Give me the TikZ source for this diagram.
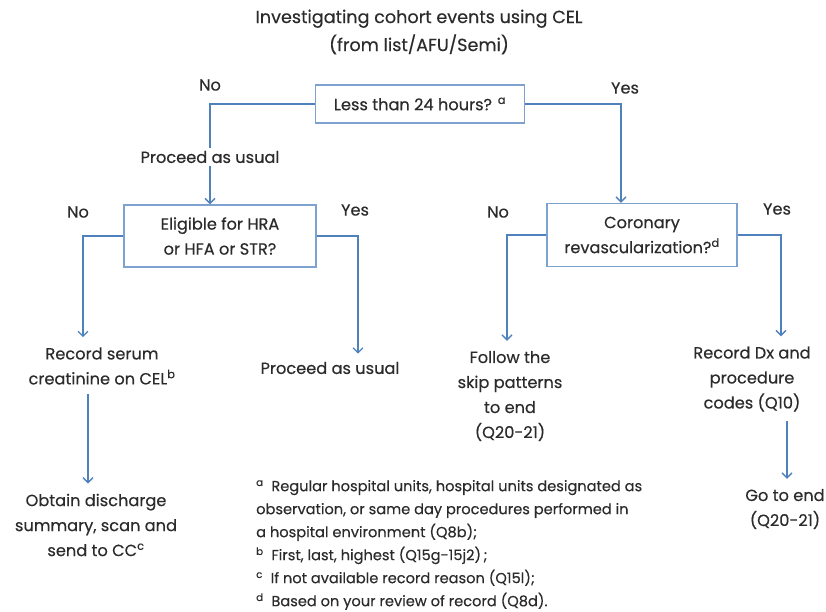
\documentclass[tikz,border=0pt]{standalone}
\usepackage{fontspec}
\setmainfont{Poppins}[FakeBold=0.35]
\usepackage{tikz}
\usetikzlibrary{positioning, arrows.meta, calc}
\usepackage{xcolor}
\definecolor{lineblue}{HTML}{4F81BD}
\definecolor{boxblue}{HTML}{7EA2CF}
\definecolor{txt}{HTML}{2B2B2B}

\begin{document}
\begin{tikzpicture}[x=1pt, y=-1pt,
      every node/.style={text=txt, font=\fontsize{16.2}{25}\selectfont},
      qbox/.style={draw=boxblue, line width=1.4pt, fill=white,
                  align=center, inner sep=2pt},
      plain/.style={align=center, inner sep=1pt},
      lbl/.style={inner sep=1pt},
      arr/.style={-{Straight Barb[length=5pt,width=10pt]}, line width=1.3pt, lineblue}]
    \useasboundingbox (0,0) rectangle (826,611);
    % title
    \node[plain, font=\fontsize{17.6}{28}\selectfont] (title) at (419,32) {Investigating cohort events using CEL\\ (from list/AFU/Semi)};
    % questions
    \node[qbox, minimum width=209pt, minimum height=38pt] (q1) at (420,104) {Less than 24 hours? \textsuperscript{a}};
    \node[qbox, minimum width=192pt, minimum height=62pt] (q2) at (220,236) {Eligible for HRA\\ or HFA or STR?};
    \node[qbox, minimum width=190pt, minimum height=63pt] (q3) at (642,235) {Coronary\\ revascularization?\textsuperscript{d}};
    % answers
    \node[lbl] (no1) at (210,85) {No};
    \node[lbl] (yes1) at (625,88) {Yes};
    \node[lbl] (no2) at (78,212) {No};
    \node[lbl] (yes2) at (355,210) {Yes};
    \node[lbl] (no3) at (498,212) {No};
    \node[lbl] (yes3) at (777,209) {Yes};
    % outcomes
    \node[plain] (serum) at (102,366) {Record serum\\ creatinine on CEL\textsuperscript{b}};
    \node[plain] (proc2) at (330,368) {Proceed as usual};
    \node[plain] (obtain) at (96,525) {Obtain discharge\\ summary, scan and\\ send to CC\textsuperscript{c}};
    \node[plain] (follow) at (510,396) {Follow the\\ skip patterns\\ to end\\ (Q20-21)};
    \node[plain] (recdx) at (752,379) {Record Dx and\\ procedure\\ codes (Q10)};
    \node[plain] (goend) at (785,509) {Go to end\\ (Q20-21)};
    % footnotes
    \node[align=left, anchor=west, inner sep=0pt, font=\fontsize{14.6}{23}\selectfont] (notes) at (256,545)
      {\textsuperscript{a}\ \ Regular hospital units, hospital units designated as\\
       observation, or same day procedures performed in\\
       a hospital environment (Q8b);\\
       \textsuperscript{b}\ \ First, last, highest (Q15g-15j2)\,;\\
       \textsuperscript{c}\ \ If not available record reason (Q15l);\\
       \textsuperscript{d}\ \ Based on your review of record (Q8d).};
    % connectors
    \draw[arr] (q1.west) -| ([xshift=-10pt]q2.north);
    \node[plain, fill=white, inner sep=3pt] (proc1) at (210,157) {Proceed as usual};
    \draw[arr] (q1.east) -| ([xshift=-21pt]q3.north);
    \draw[arr, shorten >=9pt] (q2.west) -| ([xshift=-19pt]serum.north);
    \draw[arr, shorten >=7pt] (q2.east) -| ([xshift=28pt]proc2.north);
    \draw[arr, shorten >=9pt] (q3.west) -| ([xshift=-3pt]follow.north);
    \draw[arr, shorten >=9pt] (q3.east) -| ([xshift=29pt]recdx.north);
    \draw[arr, shorten <=8pt, shorten >=9pt] ([xshift=-14pt]serum.south) -- ([xshift=-8pt]obtain.north);
    \draw[arr, shorten <=8pt, shorten >=9pt] ([xshift=35pt]recdx.south) -- ([xshift=2pt]goend.north);
\end{tikzpicture}
\end{document}
